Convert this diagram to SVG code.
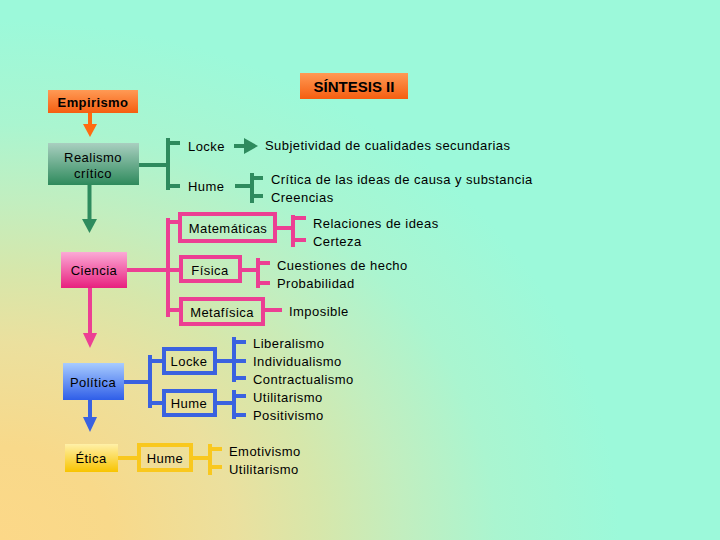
<svg xmlns="http://www.w3.org/2000/svg" width="720" height="540" viewBox="0 0 720 540">
<defs>
<radialGradient id="bg" gradientUnits="userSpaceOnUse" cx="0" cy="0" r="1" gradientTransform="translate(0,540) scale(620,520)">
<stop offset="0" stop-color="#fcd888"/>
<stop offset="0.18" stop-color="#f8d98a"/>
<stop offset="0.38" stop-color="#ebe09e"/>
<stop offset="0.52" stop-color="#d6e7ab"/>
<stop offset="0.65" stop-color="#c2eebf"/>
<stop offset="0.8" stop-color="#aaf5d0"/>
<stop offset="1" stop-color="#9cf9da"/>
</radialGradient>
<linearGradient id="gOrange" x1="0" y1="0" x2="0" y2="1">
<stop offset="0" stop-color="#ff9a55"/>
<stop offset="1" stop-color="#f55e10"/>
</linearGradient>
<linearGradient id="gGreen" x1="0" y1="0" x2="0" y2="1">
<stop offset="0" stop-color="#a9cfc0"/>
<stop offset="1" stop-color="#2e8a5c"/>
</linearGradient>
<linearGradient id="gPink" x1="0" y1="0" x2="0" y2="1">
<stop offset="0" stop-color="#fbaad6"/>
<stop offset="1" stop-color="#e8207e"/>
</linearGradient>
<linearGradient id="gBlue" x1="0" y1="0" x2="0" y2="1">
<stop offset="0" stop-color="#a8ccff"/>
<stop offset="1" stop-color="#2f5ee8"/>
</linearGradient>
<linearGradient id="gYellow" x1="0" y1="0" x2="0" y2="1">
<stop offset="0" stop-color="#fff0a8"/>
<stop offset="1" stop-color="#f8c400"/>
</linearGradient>
</defs>
<style>
text{font-family:"Liberation Sans",Arial,sans-serif;font-size:13px;fill:#000;letter-spacing:0.45px;}
.c{text-anchor:middle;}
.ln{fill:none;stroke-width:4;stroke-linecap:butt;}
.g{stroke:#2e8b5e;} .p{stroke:#ec3f93;} .b{stroke:#3a62e0;} .y{stroke:#f9c81e;} .o{stroke:#ff6a10;}
.bx{fill:none;stroke-width:4;}
</style>
<rect x="0" y="0" width="720" height="540" fill="url(#bg)"/>

<g id="connectors">
<line class="ln o" x1="90" y1="113" x2="90" y2="125" stroke-width="5"/>
<polygon points="83,124 97,124 90,137" fill="#ff6a10"/>
<line class="ln g" x1="89.5" y1="185" x2="89.5" y2="220" stroke-width="5"/>
<polygon points="82,219 97,219 89.5,233" fill="#2e8b5e"/>
<path class="ln g" d="M139,165 H168 M168,138 V190 M168,143 H180 M168,186 H180"/>
<line class="ln g" x1="234" y1="146" x2="246" y2="146"/>
<polygon points="244,138 258,146 244,154" fill="#2e8b5e"/>
<path class="ln g" d="M235,186 H252 M252,173 V203 M252,178 H263 M252,196 H263"/>
<line class="ln p" x1="90" y1="288" x2="90" y2="334" stroke-width="5"/>
<polygon points="83,333 97,333 90,348" fill="#ec3f93"/>
<path class="ln p" d="M127,270 H168 M168,218 V317 M168,222 H180 M168,270 H181 M168,310 H181"/>
<path class="ln p" d="M277,228 H293 M293,215 V247 M293,218 H306 M293,240 H306"/>
<path class="ln p" d="M242,270 H258 M258,258 V288 M258,263 H270 M258,283 H270"/>
<path class="ln p" d="M265,310 H282"/>
<line class="ln b" x1="90" y1="400" x2="90" y2="418" stroke-width="5"/>
<polygon points="83,417 97,417 90,432" fill="#3a62e0"/>
<path class="ln b" d="M124,382 H150 M150,355 V408 M150,361 H164 M150,403 H164"/>
<path class="ln b" d="M217,361 H234 M234,337 V382 M234,342 H246 M234,361 H246 M234,378 H246"/>
<path class="ln b" d="M217,403 H234 M234,390 V419 M234,396 H246 M234,415 H246"/>
<path class="ln y" d="M118,458 H139"/>
<path class="ln y" d="M193,458 H210 M210,444 V475 M210,449 H222 M210,467 H222"/>
</g>

<g id="sintesis">
<rect x="300" y="73" width="108" height="26" fill="url(#gOrange)"/>
<text class="c" x="354" y="91.5" style="font-size:15px;font-weight:bold;letter-spacing:0px;">SÍNTESIS II</text>
</g>
<g id="empirismo">
<rect x="48" y="90" width="90" height="23" fill="url(#gOrange)"/>
<text class="c" x="93" y="107" style="font-weight:bold;letter-spacing:0.4px;">Empirismo</text>
</g>
<g id="realismo">
<rect x="48" y="143" width="91" height="42" fill="url(#gGreen)"/>
<text class="c" x="93" y="162">Realismo</text>
<text class="c" x="93" y="178">crítico</text>
</g>
<g id="locke1"><text x="188" y="151">Locke</text></g>
<g id="hume1"><text x="188" y="191">Hume</text></g>
<g id="subjetividad"><text x="265" y="150">Subjetividad de cualidades secundarias</text></g>
<g id="critica">
<text x="271" y="184">Crítica de las ideas de causa y substancia</text>
<text x="271" y="202">Creencias</text>
</g>

<g id="ciencia">
<rect x="61" y="252" width="66" height="36" fill="url(#gPink)"/>
<text class="c" x="94" y="275">Ciencia</text>
</g>
<g id="matematicas">
<rect class="bx p" x="180" y="214" width="95" height="27"/>
<text class="c" x="228" y="233">Matemáticas</text>
</g>
<g id="fisica">
<rect class="bx p" x="181" y="257" width="59" height="24"/>
<text class="c" x="210" y="275">Física</text>
</g>
<g id="metafisica">
<rect class="bx p" x="181" y="299" width="82" height="25"/>
<text class="c" x="222" y="317">Metafísica</text>
</g>
<g id="relaciones">
<text x="313" y="228">Relaciones de ideas</text>
<text x="313" y="246">Certeza</text>
</g>
<g id="cuestiones">
<text x="277" y="270">Cuestiones de hecho</text>
<text x="277" y="288">Probabilidad</text>
</g>
<g id="imposible"><text x="289" y="316">Imposible</text></g>

<g id="politica">
<rect x="63" y="363" width="61" height="37" fill="url(#gBlue)"/>
<text class="c" x="93" y="387">Política</text>
</g>
<g id="locke2">
<rect class="bx b" x="164" y="349" width="51" height="24"/>
<text class="c" x="189" y="366">Locke</text>
</g>
<g id="hume2">
<rect class="bx b" x="164" y="391" width="51" height="24"/>
<text class="c" x="189" y="408">Hume</text>
</g>
<g id="liberalismo">
<text x="253" y="348">Liberalismo</text>
<text x="253" y="366">Individualismo</text>
<text x="253" y="384">Contractualismo</text>
</g>
<g id="utilitarismo1">
<text x="253" y="402">Utilitarismo</text>
<text x="253" y="420">Positivismo</text>
</g>

<g id="etica">
<rect x="65" y="444" width="53" height="28" fill="url(#gYellow)"/>
<text class="c" x="91" y="463">Ética</text>
</g>
<g id="hume3">
<rect class="bx y" x="139" y="445" width="52" height="25"/>
<text class="c" x="165" y="463">Hume</text>
</g>
<g id="emotivismo">
<text x="229" y="456">Emotivismo</text>
<text x="229" y="474">Utilitarismo</text>
</g>
</svg>
